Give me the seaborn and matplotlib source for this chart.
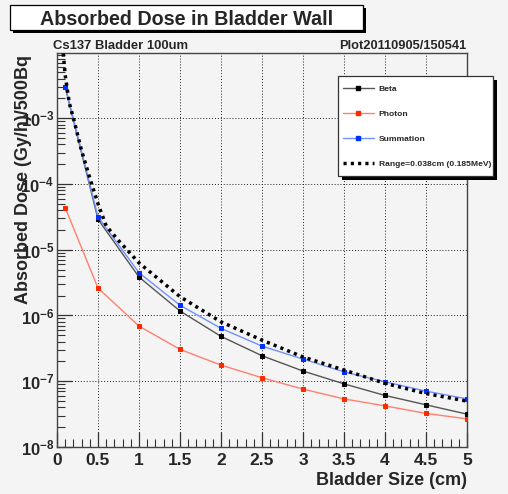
import matplotlib
matplotlib.use('Agg')
import matplotlib.pyplot as plt
import matplotlib.ticker as mticker
from matplotlib.patches import Rectangle
from matplotlib.lines import Line2D
import seaborn as sns
import numpy as np
import pandas as pd

# ========== data ==========
sizes = [0.1, 0.5, 1.0, 1.5, 2.0, 2.5, 3.0, 3.5, 4.0, 4.5, 5.0]
beta = [2.99e-3, 2.9e-5, 3.84e-6, 1.17e-6, 4.81e-7, 2.44e-7, 1.43e-7,
        9.12e-8, 6.08e-8, 4.38e-8, 3.16e-8]
photon = [4.36e-5, 2.61e-6, 6.9e-7, 3.05e-7, 1.76e-7, 1.13e-7, 7.59e-8,
          5.39e-8, 4.22e-8, 3.24e-8, 2.68e-8]
summation = [3.03e-3, 3.15e-5, 4.47e-6, 1.43e-6, 6.37e-7, 3.42e-7, 2.17e-7,
             1.39e-7, 9.8e-8, 7.07e-8, 5.39e-8]

range_x = [0.06, 0.1, 0.15, 0.2, 0.3, 0.4, 0.5, 0.6, 0.75, 1.0, 1.5, 2.0,
           2.5, 3.0, 3.5, 4.0, 4.5, 5.0]
range_y = [1.6e-2, 4.5e-3, 1.7e-3, 1.0e-3, 3.2e-4, 1.23e-4, 5.0e-5, 2.3e-5,
           1.38e-5, 6.3e-6, 1.93e-6, 8.0e-7, 4.22e-7, 2.34e-7, 1.48e-7,
           9.3e-8, 6.5e-8, 4.98e-8]

series_names = ['Beta', 'Photon', 'Summation']
range_label = 'Range=0.038cm (0.185MeV)'
y_ticks = [1e-8, 1e-7, 1e-6, 1e-5, 1e-4, 1e-3]
x_ticks = [0, 0.5, 1, 1.5, 2, 2.5, 3, 3.5, 4, 4.5, 5]

# ========== style ==========
BG = '#f4f4f4'
sns.set_theme(style='ticks')
plt.rcParams['font.family'] = ['Liberation Sans', 'DejaVu Sans']
plt.rcParams['font.weight'] = 'bold'
plt.rcParams['mathtext.fontset'] = 'custom'
plt.rcParams['mathtext.rm'] = 'Liberation Sans:bold'
plt.rcParams['mathtext.bf'] = 'Liberation Sans:bold'
plt.rcParams['mathtext.default'] = 'rm'

W, H = 508, 494
fig = plt.figure(figsize=(W / 100, H / 100), dpi=100, facecolor=BG)
ax = fig.add_axes([57 / W, 1 - 447 / H, (467 - 57) / W, (447 - 53) / H])
ax.set_facecolor(BG)

line_cols = {'Beta': '#555555', 'Photon': '#ff8070', 'Summation': '#7090ff'}
mark_cols = {'Beta': '#000000', 'Photon': '#ff2a00', 'Summation': '#0030ff'}

df = pd.DataFrame({'x': sizes * 3,
                   'y': beta + photon + summation,
                   'series': np.repeat(series_names, len(sizes))})

for name in series_names:
    sub = df[df['series'] == name]
    sns.lineplot(data=sub, x='x', y='y', ax=ax, color=line_cols[name],
                 linewidth=1.0, marker='s', markersize=3.4,
                 markerfacecolor=mark_cols[name], markeredgecolor=mark_cols[name],
                 zorder=3)

rdf = pd.DataFrame({'x': range_x, 'y': range_y})
sns.lineplot(data=rdf, x='x', y='y', ax=ax, color='black', linewidth=2.5,
             linestyle=(0, (0.9, 1.2)), zorder=4)

ax.set_yscale('log')
ax.set_xlim(0, 5)
ax.set_ylim(1e-8, 9.8e-3)
ax.set_xlabel('')
ax.set_ylabel('')

ax.set_xticks(x_ticks)
ax.set_xticklabels([f'{t:g}' for t in x_ticks])
ax.xaxis.set_minor_locator(mticker.MultipleLocator(0.1))
ax.set_yticks(y_ticks)
ax.set_yticklabels([r'$10^{%d}$' % int(np.log10(t)) for t in y_ticks])
ax.yaxis.set_minor_locator(mticker.LogLocator(base=10, subs=np.arange(2, 10)))
ax.yaxis.set_minor_formatter(mticker.NullFormatter())

ax.tick_params(axis='both', which='major', direction='in', length=11,
               width=0.9, color='#333333', labelsize=12.5, pad=4)
ax.tick_params(axis='both', which='minor', direction='in', length=6,
               width=0.8, color='#333333')
ax.tick_params(axis='y', which='major', pad=2, labelsize=12)
for lab in ax.get_xticklabels() + ax.get_yticklabels():
    lab.set_fontweight('bold')

ax.grid(True, which='major', color='#222222', linestyle=(0, (1, 2)),
        linewidth=0.7)
for sp in ax.spines.values():
    sp.set_visible(True)
    sp.set_color('#444444')
    sp.set_linewidth(1.0)

# axis titles
fig.text(467 / W, 1 - 480 / H, 'Bladder Size (cm)', ha='right', va='center',
         fontsize=13, fontweight='bold')
fig.text(24 / W, 1 - 55 / H, 'Absorbed Dose (Gy/h)/500Bq', ha='center',
         va='top', rotation=90, fontsize=13, fontweight='bold')

# corner texts
fig.text(53 / W, 1 - 52 / H, 'Cs137 Bladder 100um', ha='left',
         va='bottom', fontsize=9.4, fontweight='bold')
fig.text(466 / W, 1 - 52 / H, 'Plot20110905/150541', ha='right',
         va='bottom', fontsize=9.3, fontweight='bold')

# title box with shadow
fig.patches.append(Rectangle((13 / W, 1 - 33 / H), 353 / W, 25 / H,
                             transform=fig.transFigure, facecolor='black',
                             edgecolor='none', zorder=1))
fig.patches.append(Rectangle((10 / W, 1 - 30 / H), 353 / W, 25 / H,
                             transform=fig.transFigure, facecolor='white',
                             edgecolor='black', linewidth=0.9, zorder=2))
fig.text(187 / W, 1 - 19.5 / H, 'Absorbed Dose in Bladder Wall', ha='center',
         va='center', fontsize=14.2, fontweight='bold', zorder=3)

# legend box with shadow
lx0, ly0, lx1, ly1 = 338, 76, 493, 176
fig.patches.append(Rectangle(((lx0 + 4) / W, 1 - (ly1 + 4) / H),
                             (lx1 - lx0) / W, (ly1 - ly0) / H,
                             transform=fig.transFigure, facecolor='black',
                             edgecolor='none', zorder=5))
fig.patches.append(Rectangle((lx0 / W, 1 - ly1 / H), (lx1 - lx0) / W,
                             (ly1 - ly0) / H, transform=fig.transFigure,
                             facecolor='white', edgecolor='#333333',
                             linewidth=0.9, zorder=6))
handles = [Line2D([], [], color=line_cols[n], linewidth=1.0, marker='s',
                  markersize=3.4, markerfacecolor=mark_cols[n],
                  markeredgecolor=mark_cols[n]) for n in series_names]
handles.append(Line2D([], [], color='black', linewidth=2.5,
                      linestyle=(0, (0.9, 1.2))))
leg = fig.legend(handles, series_names + [range_label], loc='center left',
                 bbox_to_anchor=(343 / W, 1 - 126.5 / H), frameon=False,
                 fontsize=6.1, handlelength=3.6, handletextpad=0.6,
                 labelspacing=1.98, borderpad=0, borderaxespad=0)
leg.set_zorder(7)
for t in leg.get_texts():
    t.set_fontweight('bold')

fig.savefig('out.png', dpi=100, facecolor=BG)
